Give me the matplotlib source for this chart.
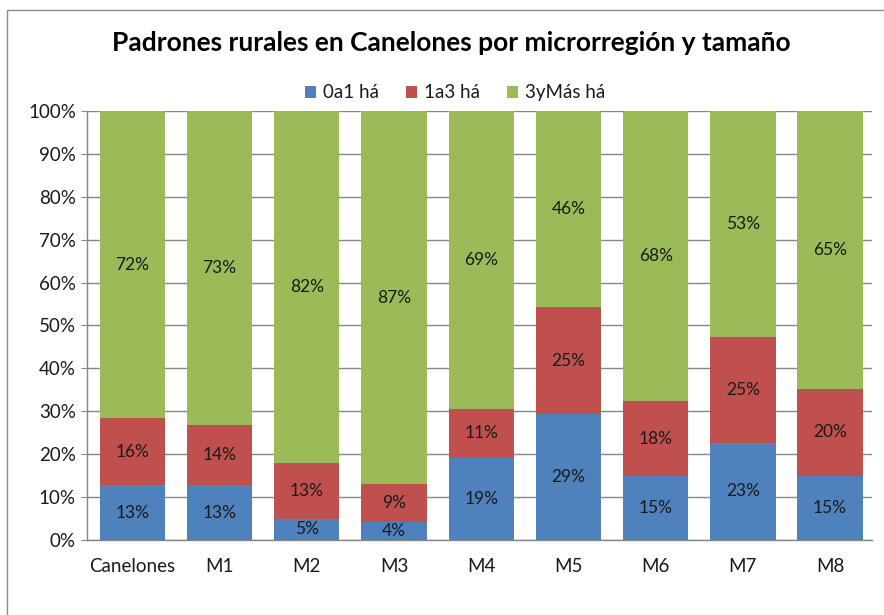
import matplotlib.pyplot as plt
import numpy as np
from matplotlib.patches import Rectangle

plt.rcParams['font.family'] = ['Lato', 'DejaVu Sans']

# Data (percentages per microregion)
regiones = ["Canelones", "M1", "M2", "M3", "M4", "M5", "M6", "M7", "M8"]
ha_0a1 = [12.8, 12.8, 5.0, 4.2, 19.2, 29.4, 14.8, 22.6, 15.0]
ha_1a3 = [15.6, 14.0, 13.0, 8.8, 11.4, 24.8, 17.6, 24.7, 20.2]
ha_3ymas = [71.6, 73.2, 82.0, 87.0, 69.4, 45.8, 67.6, 52.7, 64.8]
series_names = ["0a1 há", "1a3 há", "3yMás há"]
colors = ["#4F81BD", "#C0504D", "#9BBB59"]

fig = plt.figure(figsize=(8.84, 6.15), dpi=100)
ax = fig.add_axes([0.0984, 0.122, 0.888, 0.6975])

# Chart border like the spreadsheet frame
fig.patches.append(Rectangle((0.008, -0.01), 1.0, 0.994, transform=fig.transFigure,
                             fill=False, edgecolor="#8c8c8c", linewidth=1.0))

x = np.arange(len(regiones))
bottom = np.zeros(len(regiones))
for name, vals, col in zip(series_names, [ha_0a1, ha_1a3, ha_3ymas], colors):
    vals = np.array(vals)
    ax.bar(x + 0.02, vals, 0.75, bottom=bottom, color=col, label=name, zorder=3)
    for xi, b, v in zip(x, bottom, vals):
        ax.text(xi + 0.02, b + v / 2, f"{round(v):.0f}%", ha="center", va="center",
                fontsize=12.5, color="#1a1a1a", zorder=4)
    bottom += vals

ax.set_xlim(-0.5, len(regiones) - 0.5)
ax.set_ylim(0, 100)
ax.set_yticks(np.arange(0, 101, 10))
ax.set_yticklabels([f"{t}%" for t in range(0, 101, 10)])
ax.set_xticks(x + 0.02)
ax.set_xticklabels(regiones)
ax.tick_params(axis="y", labelsize=13.5, length=4, color="#868686", pad=4,
               labelcolor="#1a1a1a")
ax.tick_params(axis="x", labelsize=13.5, length=0, pad=13, labelcolor="#1a1a1a")
ax.yaxis.grid(True, color="#868686", linewidth=1.0, zorder=0)
ax.set_axisbelow(True)
for s in ["top", "right"]:
    ax.spines[s].set_visible(False)
for s in ["left", "bottom"]:
    ax.spines[s].set_color("#868686")
    ax.spines[s].set_linewidth(1.0)

fig.text(0.511, 0.930, "Padrones rurales en Canelones por microrregión y tamaño",
         ha="center", va="center", fontsize=19, fontweight="bold", color="#000000")

ax.legend(loc="center", bbox_to_anchor=(0.469, 1.042), ncol=3, frameon=False,
          fontsize=13.5, handlelength=0.6, handleheight=0.6, handletextpad=0.4,
          columnspacing=1.4, labelcolor="#1a1a1a")

fig.savefig("out.png", dpi=100)
